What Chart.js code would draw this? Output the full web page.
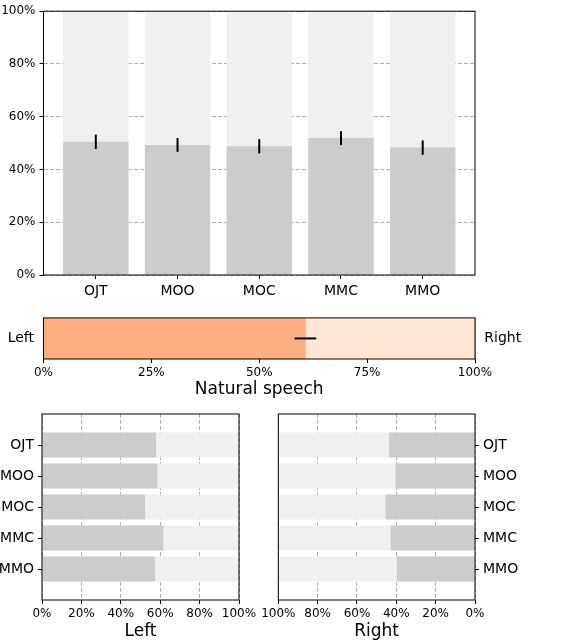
<!DOCTYPE html>
<html>
<head>
<meta charset="utf-8">
<script src="https://cdn.jsdelivr.net/npm/chart.js@4"></script>
<style>
body { margin: 0; background: #fff; }
#wrap { position: relative; width: 566px; height: 640px; }
canvas { position: absolute; left: 0; }
</style>
</head>
<body>
<div id="wrap">
  <canvas id="overall" width="566" height="300" style="top:0"></canvas>
  <canvas id="natural" width="566" height="100" style="top:300px"></canvas>
  <canvas id="leftChart" width="566" height="240" style="top:400px"></canvas>
  <canvas id="rightChart" width="566" height="240" style="top:400px"></canvas>
</div>
<script>
// categorias y valores (en %)
var categories = ['OJT', 'MOO', 'MOC', 'MMC', 'MMO'];
var overallValues = [50.5, 49.3, 48.8, 51.9, 48.3];
var overallErr = [2.7, 2.6, 2.7, 2.6, 2.7];
var naturalLabels = ['Left'];
var naturalRightLabels = ['Right'];
var naturalValues = [60.7];
var naturalErr = [2.5];
var leftValues = [57.9, 58.5, 52.3, 61.6, 57.4];
var rightValues = [43.7, 40.3, 45.4, 42.9, 39.8];
var fullValue = 100;

Chart.defaults.font.family = 'DejaVu Sans';
Chart.defaults.color = '#000';
Chart.defaults.animation = false;
Chart.defaults.plugins.legend.display = false;
Chart.defaults.plugins.tooltip.enabled = false;

var grey = '#cccccc';
var light = '#f0f0f0';
var gridGrey = '#b0b0b0';

// marco negro alrededor del area del grafico
var frame = {
    id: 'frame',
    afterDraw: function(chart) {
        var a = chart.chartArea, c = chart.ctx;
        c.save();
        c.strokeStyle = '#000';
        c.lineWidth = 1;
        c.strokeRect(a.left, a.top, a.right - a.left, a.bottom - a.top);
        c.restore();
    }
};

// barras de error
function errorBars(values, errs, horizontal) {
    return {
        id: 'errbars',
        afterDatasetsDraw: function(chart) {
            var c = chart.ctx, xs = chart.scales.x, ys = chart.scales.y;
            c.save();
            c.strokeStyle = '#000';
            c.lineWidth = 2;
            values.forEach(function(v, i) {
                c.beginPath();
                if (horizontal) {
                    var y = ys.getPixelForValue(i);
                    c.moveTo(xs.getPixelForValue(v - errs[i]), y);
                    c.lineTo(xs.getPixelForValue(v + errs[i]), y);
                } else {
                    var x = xs.getPixelForValue(i);
                    c.moveTo(x, ys.getPixelForValue(v - errs[i]));
                    c.lineTo(x, ys.getPixelForValue(v + errs[i]));
                }
                c.stroke();
            });
            c.restore();
        }
    };
}

function catTicks(s) {
    s.ticks = categories.map(function(c, i) { return { value: i }; });
}
function pct(v) { return v + '%'; }

//////////////////////// grafico superior ////////////////////////
new Chart(document.getElementById('overall'), {
    type: 'bar',
    data: {
        datasets: [{
            data: overallValues.map(function(v, i) { return { x: i, y: v }; }),
            backgroundColor: grey
        }, {
            data: categories.map(function(c, i) { return { x: i, y: fullValue }; }),
            backgroundColor: light
        }]
    },
    options: {
        responsive: false,
        layout: { padding: { top: 7, right: 91, left: 0, bottom: 0 } },
        datasets: { bar: { grouped: false, categoryPercentage: 1, barPercentage: 0.8 } },
        scales: {
            x: {
                type: 'linear', min: -0.64, max: 4.64, offset: false,
                afterBuildTicks: catTicks,
                ticks: { callback: function(v) { return categories[v]; }, font: { size: 14 }, padding: 3.5, autoSkip: false, maxRotation: 0 },
                grid: { offset: false, drawOnChartArea: false, tickLength: 4, tickColor: '#000' },
                border: { display: false },
                afterFit: function(s) { s.height = 25; }
            },
            y: {
                min: 0, max: 100, z: 1,
                ticks: { stepSize: 20, callback: pct, font: { size: 12 }, padding: 4 },
                grid: { color: gridGrey, tickColor: '#000', tickLength: 4 },
                border: { display: false, dash: [4, 2] },
                afterFit: function(s) { s.width = 43.5; }
            }
        }
    },
    plugins: [frame, errorBars(overallValues, overallErr, false)]
});

//////////////////////// Natural speech ////////////////////////
new Chart(document.getElementById('natural'), {
    type: 'bar',
    data: {
        labels: naturalLabels,
        datasets: [{
            data: naturalValues,
            backgroundColor: '#fdb07f'
        }, {
            data: naturalValues.map(function() { return fullValue; }),
            backgroundColor: '#fee6d4'
        }]
    },
    options: {
        responsive: false,
        indexAxis: 'y',
        layout: { padding: { top: 17.7, right: 0, left: 0, bottom: 0 } },
        datasets: { bar: { grouped: false, categoryPercentage: 1, barPercentage: 1 } },
        scales: {
            x: {
                min: 0, max: 100, z: 1,
                ticks: { stepSize: 25, callback: pct, font: { size: 12 }, padding: 3 },
                grid: { color: gridGrey, tickColor: '#000', tickLength: 4 },
                border: { display: false },
                title: { display: true, text: 'Natural speech', font: { size: 17 }, padding: { top: 0, bottom: 0 } },
                afterFit: function(s) { s.height = 41; }
            },
            y: {
                type: 'category', offset: true,
                grid: { display: false, drawTicks: false }, border: { display: false },
                ticks: { font: { size: 14 }, padding: 9.5 },
                afterFit: function(s) { s.width = 43.5; }
            },
            y2: {
                type: 'category', position: 'right', labels: naturalRightLabels, offset: true,
                grid: { display: false, drawTicks: false }, border: { display: false },
                ticks: { font: { size: 14 }, padding: 9.3 },
                afterFit: function(s) { s.width = 91; }
            }
        }
    },
    plugins: [frame, errorBars(naturalValues, naturalErr, true)]
});

//////////////////////// Left / Right ////////////////////////
function sideChart(id, values, title, isRight) {
    new Chart(document.getElementById(id), {
        type: 'bar',
        data: {
            datasets: [{
                data: values.map(function(v, i) { return { x: v, y: i }; }),
                backgroundColor: grey
            }, {
                data: categories.map(function(c, i) { return { x: fullValue, y: i }; }),
                backgroundColor: light
            }]
        },
        options: {
            responsive: false,
            indexAxis: 'y',
            layout: { padding: isRight ? { top: 14, left: 278.3, right: 0, bottom: 0 } : { top: 14, left: 0, right: 327, bottom: 0 } },
            datasets: { bar: { grouped: false, categoryPercentage: 1, barPercentage: 0.8 } },
            scales: {
                x: {
                    min: 0, max: 100, z: 1, reverse: isRight,
                    ticks: { stepSize: 20, callback: pct, font: { size: 12 }, padding: 2.5, maxRotation: 0 },
                    grid: { color: gridGrey, tickColor: '#000', tickLength: 4 },
                    border: { display: false, dash: [4, 2] },
                    title: { display: true, text: title, font: { size: 17 }, padding: { top: 0, bottom: -2 } },
                    afterFit: function(s) { s.height = 40; }
                },
                y: {
                    type: 'linear', min: -1, max: 5, reverse: true, offset: false,
                    position: isRight ? 'right' : 'left',
                    afterBuildTicks: catTicks,
                    ticks: { callback: function(v) { return categories[v]; }, font: { size: 14 }, padding: 4, autoSkip: false },
                    grid: { offset: false, drawOnChartArea: false, tickLength: 4, tickColor: '#000' },
                    border: { display: false },
                    afterFit: function(s) { s.width = isRight ? 91 : 42; }
                }
            }
        },
        plugins: [frame]
    });
}
sideChart('leftChart', leftValues, 'Left', false);
sideChart('rightChart', rightValues, 'Right', true);
</script>
</body>
</html>
